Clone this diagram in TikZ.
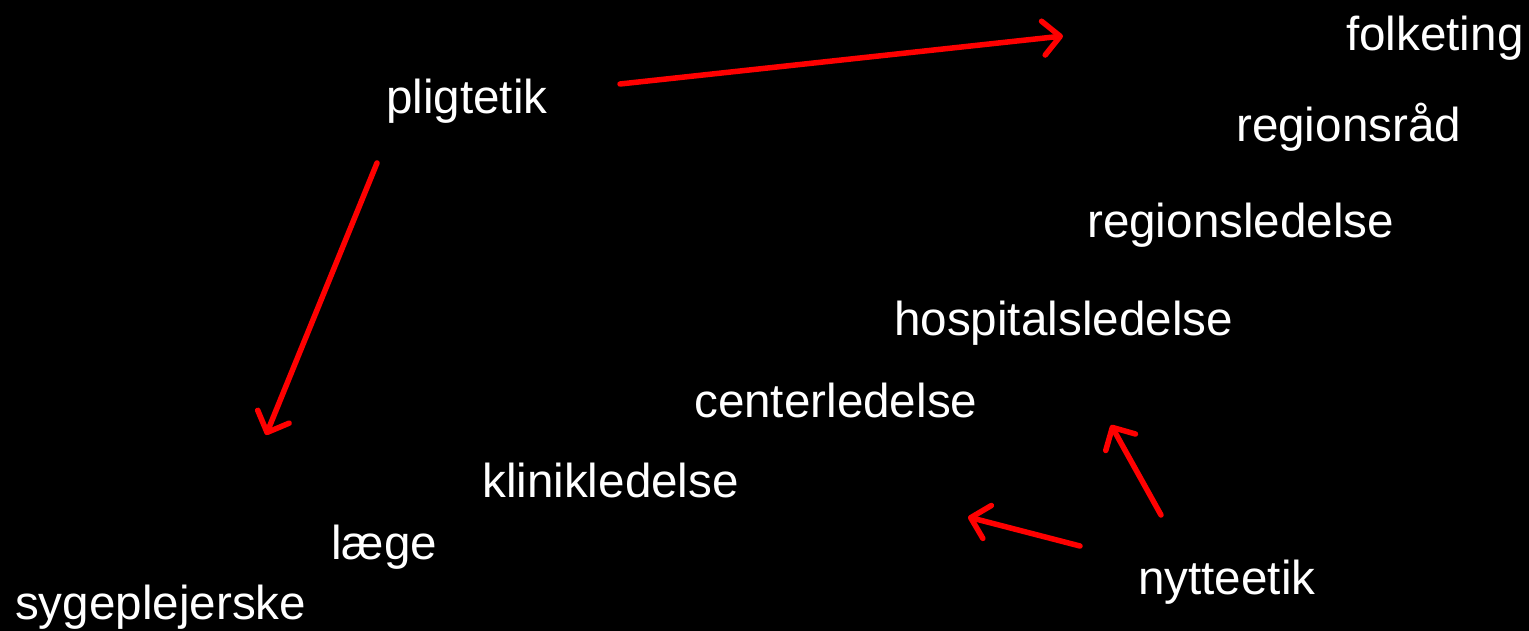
\documentclass[tikz,border=0pt]{standalone}
\usepackage{fontspec}
\setmainfont{Liberation Sans}
\usetikzlibrary{arrows.meta}

\begin{document}
\begin{tikzpicture}[x=1pt, y=-1pt,
    % --- Text style ---
    word/.style={anchor=base west, inner sep=0pt, text=white,
                 font=\fontsize{47.6}{56}\selectfont},
    % --- Arrow style ---
    flow/.style={draw=red, line width=5.5pt, line cap=round,
                 -{Straight Barb[length=17pt, width=34pt, round]}},
]

% === Background ===
\fill[black] (0,0) rectangle (1529,631);
\useasboundingbox (0,0) rectangle (1529,631);

% === The levels, top right to bottom left ===
\node[word] (folketing)  at (1346,51)  {folketing};
\node[word] (regionsraad) at (1236,142) {regionsråd};
\node[word] (regionsled) at (1087,237) {regionsledelse};
\node[word] (hospital)   at (894,335)  {hospitalsledelse};
\node[word] (center)     at (694,417)  {centerledelse};
\node[word] (klinik)     at (482,497)  {klinikledelse};
\node[word] (laege)      at (331,559)  {læge};
\node[word] (sygepl)     at (15,619)   {sygeplejerske};

% === The two ethics ===
\node[word] (pligt)  at (386,114) {pligtetik};
\node[word] (nytte)  at (1138,594) {nytteetik};

% === Arrow ends ===
\coordinate (pligtA) at (620,84);
\coordinate (pligtB) at (377,163);
\coordinate (topend) at (1063,36);
\coordinate (lowend) at (266,435);
\coordinate (nytteA) at (1080,546);
\coordinate (nytteB) at (1161,515);
\coordinate (leftend) at (968,517);
\coordinate (upend)  at (1111,425);

% === Arrows ===
\draw[flow] (pligtA) -- (topend);
\draw[flow] (pligtB) -- (lowend);
\draw[flow] (nytteA) -- (leftend);
\draw[flow] (nytteB) -- (upend);

\end{tikzpicture}
\end{document}
